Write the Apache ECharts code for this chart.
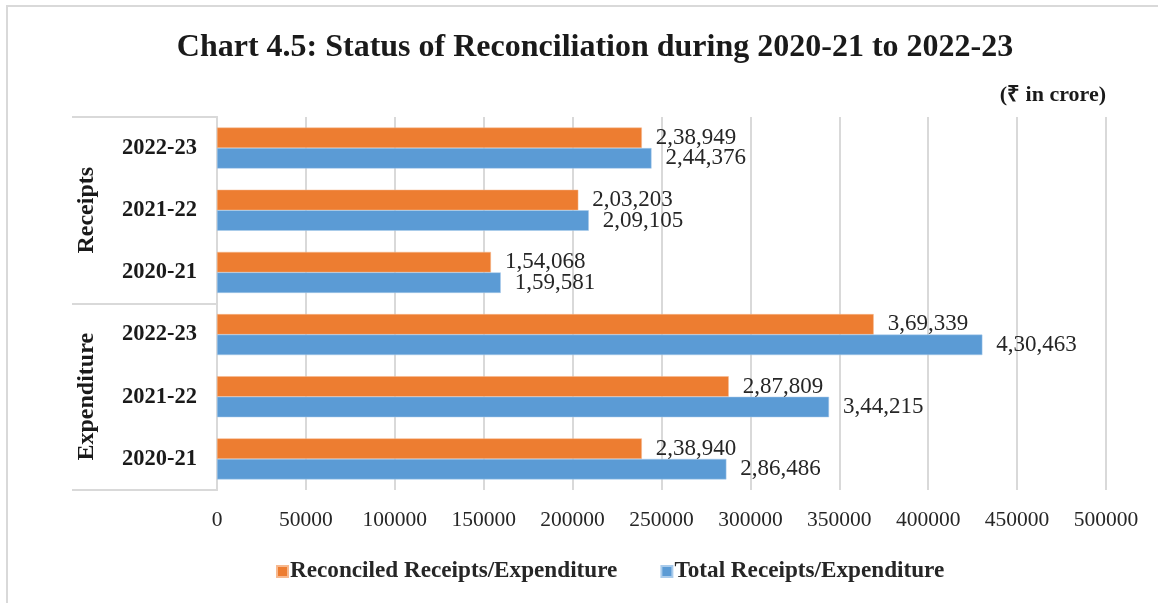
<!DOCTYPE html>
<html>
<head>
<meta charset="utf-8">
<script src="https://cdn.jsdelivr.net/npm/echarts@6/dist/echarts.min.js"></script>
<style>
html,body{margin:0;padding:0;background:#fff;}
#chart{width:1158px;height:603px;}
</style>
</head>
<body>
<div id="chart"></div>
<script>
// Data (top to bottom as shown)
const groups = ['Receipts', 'Expenditure'];
const years = ['2022-23', '2021-22', '2020-21'];
const reconciled = [238949, 203203, 154068, 369339, 287809, 238940];
const total = [244376, 209105, 159581, 430463, 344215, 286486];
const xTicks = [0, 50000, 100000, 150000, 200000, 250000, 300000, 350000, 400000, 450000, 500000];
const seriesNames = ['Reconciled Receipts/Expenditure', 'Total Receipts/Expenditure'];

const categories = [];
groups.forEach(g => years.forEach(y => categories.push(g + '|' + y)));

function indian(n) {
  const s = String(Math.round(n));
  if (s.length <= 3) return s;
  const last3 = s.slice(-3);
  let rest = s.slice(0, -3);
  const parts = [];
  while (rest.length > 2) { parts.unshift(rest.slice(-2)); rest = rest.slice(0, -2); }
  if (rest.length) parts.unshift(rest);
  return parts.join(',') + ',' + last3;
}

const serif = '"Liberation Serif", "Times New Roman", serif';
const chart = echarts.init(document.getElementById('chart'), null, {renderer: 'canvas'});

const labelCfg = {
  show: true, position: 'right', distance: 14,
  fontFamily: serif, fontSize: 23, color: '#262626',
  formatter: p => indian(p.value)
};

chart.setOption({
  backgroundColor: '#fff',
  animation: false,
  graphic: [{
    type: 'rect', silent: true, z: -10,
    shape: {x: 7, y: 6, width: 1300, height: 800},
    style: {fill: 'none', stroke: '#d9d9d9', lineWidth: 2}
  }],
  title: [{
    text: 'Chart 4.5: Status of Reconciliation during 2020-21 to 2022-23',
    left: 590, textAlign: 'center', top: 27,
    textStyle: {fontFamily: serif, fontWeight: 'bold', fontSize: 32, color: '#1a1a1a'}
  }, {
    text: '(₹ in crore)',
    right: 47, top: 79,
    textStyle: {fontFamily: serif, fontWeight: 'bold', fontSize: 22, color: '#1a1a1a'}
  }],
  legend: {
    data: seriesNames,
    left: 271, top: 555,
    icon: 'rect', itemWidth: 11, itemHeight: 11, itemGap: 43,
    textStyle: {fontFamily: serif, fontWeight: 'bold', fontSize: 23.2, color: '#262626', padding: [0, 0, 0, -3]}
  },
  grid: {left: 217, right: 52, top: 117, bottom: 113, containLabel: false},
  xAxis: {
    type: 'value', min: xTicks[0], max: xTicks[xTicks.length - 1], interval: xTicks[1] - xTicks[0],
    axisLine: {show: false}, axisTick: {show: false},
    splitLine: {show: true, lineStyle: {color: '#d9d9d9', width: 2}},
    axisLabel: {fontFamily: serif, fontSize: 21.5, color: '#262626', margin: 19,
      formatter: v => String(v)}
  },
  yAxis: [{
    type: 'category', data: categories, inverse: true,
    axisLine: {show: true, lineStyle: {color: '#d9d9d9', width: 2}},
    axisTick: {show: false},
    axisLabel: {fontFamily: serif, fontWeight: 'bold', fontSize: 22.5, color: '#1a1a1a', margin: 20,
      formatter: v => v.split('|')[1]}
  }, {
    type: 'category', data: groups, inverse: true, position: 'left', offset: 0,
    axisLine: {show: true, lineStyle: {color: '#d9d9d9', width: 2}},
    axisTick: {show: true, length: 145, lineStyle: {color: '#d9d9d9', width: 2}},
    axisLabel: {fontFamily: serif, fontWeight: 'bold', fontSize: 24, color: '#1a1a1a', margin: 118, rotate: 90}
  }],
  series: [{
    name: seriesNames[0], type: 'bar', yAxisIndex: 0, data: reconciled,
    itemStyle: {color: '#ED7D31', borderColor: '#f7b98f', borderWidth: 0.5},
    barGap: '0%', barCategoryGap: '34%', label: labelCfg
  }, {
    name: seriesNames[1], type: 'bar', yAxisIndex: 0, data: total,
    itemStyle: {color: '#5B9BD5', borderColor: '#a9cbeb', borderWidth: 0.5},
    barGap: '0%', barCategoryGap: '34%', label: labelCfg
  }]
});
</script>
</body>
</html>
